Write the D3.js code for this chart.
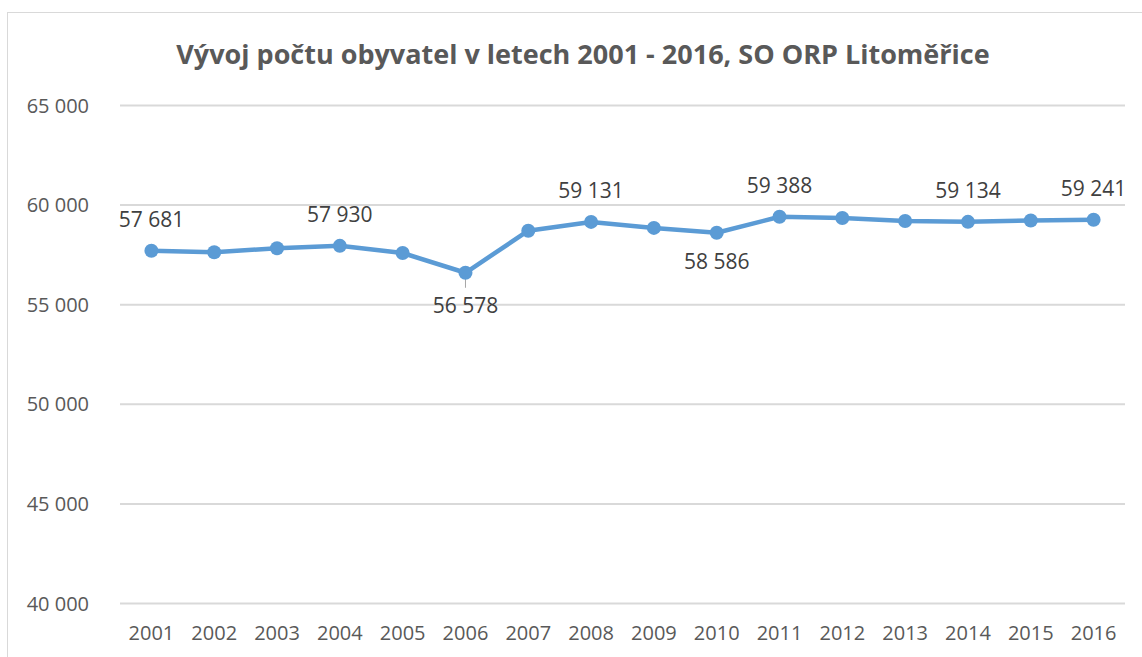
<!DOCTYPE html>
<html lang="cs">
<head>
<meta charset="utf-8">
<title>Vývoj počtu obyvatel</title>
<script src="https://cdn.jsdelivr.net/npm/d3@7"></script>
<style>
  body { margin: 0; background: #fff; }
  text { font-family: "Open Sans", sans-serif; }
</style>
</head>
<body>
<div id="chart"></div>
<script>
// data
var years = ["2001","2002","2003","2004","2005","2006","2007","2008","2009","2010","2011","2012","2013","2014","2015","2016"];
var population = [57681, 57610, 57810, 57930, 57570, 56578, 58690, 59131, 58830, 58586, 59388, 59330, 59180, 59134, 59200, 59241];
// which points carry a value label, and on which side
var labelled = ["2001","2004","2006","2008","2010","2011","2014","2016"];
var labelSide = ["above","above","below","above","below","above","above","above"];
var yTicks = [40000, 45000, 50000, 55000, 60000, 65000];
var title = "Vývoj počtu obyvatel v letech 2001 - 2016, SO ORP Litoměřice";

var W = 1142, H = 657;
var margin = {top: 105, right: 17, bottom: 54, left: 120};

var svg = d3.select("#chart").append("svg")
    .attr("width", W)
    .attr("height", H);

// chart area border
svg.append("rect")
    .attr("x", 7.5).attr("y", 12.5)
    .attr("width", W + 20).attr("height", H + 20)
    .attr("fill", "none")
    .attr("stroke", "#d9d9d9")
    .attr("stroke-width", 1);

svg.append("text")
    .attr("x", 583).attr("y", 64)
    .attr("text-anchor", "middle")
    .attr("fill", "#595959")
    .style("font-size", "27px")
    .style("font-weight", "bold")
    .text(title);

var x = d3.scaleBand()
    .domain(years)
    .range([margin.left, W - margin.right]);

var y = d3.scaleLinear()
    .domain([40000, 65000])
    .range([H - margin.bottom, margin.top]);

var fmt = function(v) { return d3.format(",")(v).replace(/,/g, " "); };

// gridlines + y labels
var yAxis = svg.append("g")
    .attr("transform", "translate(" + margin.left + ",0)")
    .call(d3.axisLeft(y).tickValues(yTicks).tickSize(-(W - margin.right - margin.left)).tickPadding(31).tickFormat(fmt));
yAxis.select(".domain").remove();
yAxis.selectAll(".tick line").attr("stroke", "#d9d9d9").attr("stroke-width", 2);
yAxis.selectAll(".tick text").attr("fill", "#595959").style("font-size", "20px").attr("dy", "0.35em");

// x labels
var xAxis = svg.append("g")
    .attr("transform", "translate(0," + (H - margin.bottom) + ")")
    .call(d3.axisBottom(x).tickSize(0).tickPadding(23));
xAxis.select(".domain").remove();
xAxis.selectAll(".tick text").attr("fill", "#595959").style("font-size", "20px");

var pts = years.map(function(d, i) { return {year: d, value: population[i]}; });
var cx = function(d) { return x(d.year) + x.bandwidth() / 2; };

svg.append("path")
    .datum(pts)
    .attr("fill", "none")
    .attr("stroke", "#5b9bd5")
    .attr("stroke-width", 4.5)
    .attr("stroke-linejoin", "round")
    .attr("d", d3.line().x(cx).y(function(d) { return y(d.value); }));

var lab = pts.filter(function(d) { return labelled.indexOf(d.year) >= 0; });
lab.forEach(function(d) { d.side = labelSide[labelled.indexOf(d.year)]; });

// leader line for the 2006 label
svg.selectAll(".leader")
    .data(lab.filter(function(d) { return d.year === "2006"; }))
    .enter().append("line")
    .attr("x1", cx).attr("x2", cx)
    .attr("y1", function(d) { return y(d.value) + 4; })
    .attr("y2", function(d) { return y(d.value) + 15; })
    .attr("stroke", "#a6a6a6")
    .attr("stroke-width", 1);

svg.selectAll(".dot")
    .data(pts)
    .enter().append("circle")
    .attr("cx", cx)
    .attr("cy", function(d) { return y(d.value); })
    .attr("r", 7)
    .attr("fill", "#5b9bd5");

svg.selectAll(".lbl")
    .data(lab)
    .enter().append("text")
    .attr("x", cx)
    .attr("y", function(d) {
        if (d.side === "above") return y(d.value) - 24;
        return y(d.value) + (d.year === "2006" ? 40 : 36);
    })
    .attr("text-anchor", "middle")
    .attr("fill", "#404040")
    .style("font-size", "21px")
    .text(function(d) { return fmt(d.value); });
</script>
</body>
</html>
